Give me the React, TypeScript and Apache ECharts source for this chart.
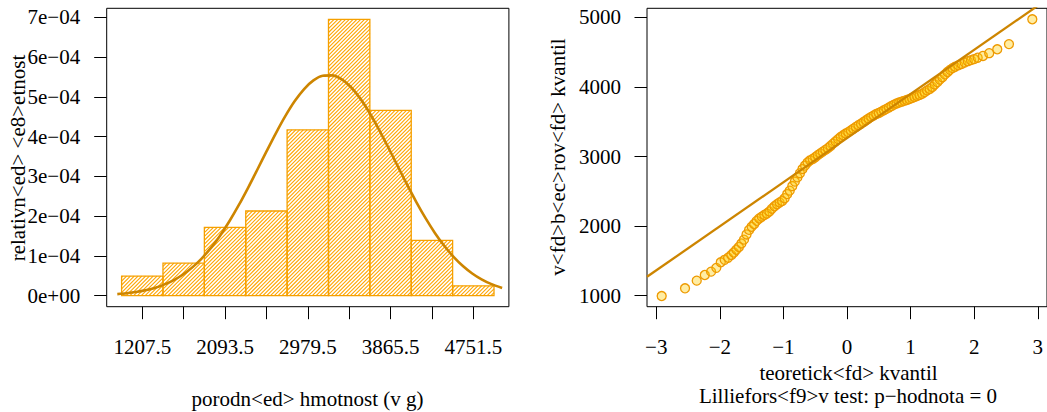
import React, { useEffect, useRef } from "react";
import * as echarts from "echarts";

// ---- Histogram (left panel) ----
const histBreaks = [986, 1429, 1872, 2315, 2758, 3201, 3644, 4087, 4530, 4973];
const histDensity = [4.9e-5, 8.2e-5, 1.72e-4, 2.13e-4, 4.17e-4, 6.95e-4, 4.66e-4, 1.39e-4, 2.45e-5];
const histTickValues = [1207.5, 1650.5, 2093.5, 2536.5, 2979.5, 3422.5, 3865.5, 4308.5, 4751.5];
const histLabelValues = [1207.5, 2093.5, 2979.5, 3865.5, 4751.5];
const densityTicks = [0, 1e-4, 2e-4, 3e-4, 4e-4, 5e-4, 6e-4, 7e-4];

// fitted normal density curve (values in units of 1e-4)
const curveX = [
  940, 1040, 1140, 1240, 1340, 1440, 1540, 1640, 1740, 1840, 1940, 2040, 2140, 2240,
  2340, 2440, 2540, 2640, 2740, 2840, 2940, 3040, 3140, 3240, 3340, 3440, 3540, 3640,
  3740, 3840, 3940, 4040, 4140, 4240, 4340, 4440, 4540, 4640, 4740, 4840, 4940, 5060,
];
const curveY = [
  0.0397, 0.0609, 0.0915, 0.135, 0.1954, 0.2773, 0.3861, 0.5271, 0.7059, 0.9275, 1.1948, 1.5099, 1.8713, 2.2752,
  2.7131, 3.1733, 3.6407, 4.0965, 4.5212, 4.8943, 5.1969, 5.4123, 5.5287, 5.5394, 5.4438, 5.2474, 4.9611, 4.6006,
  4.1845, 3.7332, 3.2668, 2.8038, 2.3605, 1.9491, 1.5785, 1.254, 0.9772, 0.7466, 0.5596, 0.4115, 0.2967, 0.1954,
];

// ---- Q-Q plot (right panel) ----
const qqX = [
  -2.914, -2.547, -2.363, -2.236, -2.137, -2.055, -1.985, -1.924, -1.869, -1.819,
  -1.78, -1.74, -1.7, -1.66, -1.62, -1.58, -1.54, -1.5, -1.46, -1.42,
  -1.38, -1.34, -1.3, -1.26, -1.22, -1.18, -1.14, -1.1, -1.06, -1.02,
  -0.98, -0.94, -0.9, -0.86, -0.82, -0.78, -0.74, -0.7, -0.66, -0.62,
  -0.58, -0.54, -0.5, -0.46, -0.42, -0.38, -0.34, -0.3, -0.26, -0.22,
  -0.18, -0.14, -0.1, -0.06, -0.02, 0.02, 0.06, 0.1, 0.14, 0.18,
  0.22, 0.26, 0.3, 0.34, 0.38, 0.42, 0.46, 0.5, 0.54, 0.58,
  0.62, 0.66, 0.7, 0.74, 0.78, 0.82, 0.86, 0.9, 0.94, 0.98,
  1.02, 1.06, 1.1, 1.14, 1.18, 1.22, 1.26, 1.3, 1.34, 1.38,
  1.42, 1.46, 1.5, 1.54, 1.58, 1.62, 1.66, 1.7, 1.75, 1.8,
  1.85, 1.9, 1.95, 2.0, 2.055, 2.137, 2.236, 2.363, 2.547, 2.914,
];
const qqY = [
  995, 1106, 1216, 1297, 1345, 1400, 1480, 1515, 1545, 1585,
  1620, 1660, 1700, 1750, 1805, 1880, 1945, 1990, 2030, 2075,
  2110, 2135, 2160, 2180, 2210, 2250, 2285, 2315, 2340, 2360,
  2400, 2460, 2510, 2575, 2640, 2700, 2760, 2820, 2870, 2915,
  2945, 2965, 2990, 3020, 3045, 3070, 3095, 3120, 3150, 3185,
  3215, 3250, 3280, 3305, 3330, 3350, 3375, 3400, 3425, 3450,
  3470, 3495, 3520, 3545, 3570, 3590, 3610, 3625, 3645, 3665,
  3685, 3705, 3725, 3745, 3762, 3775, 3788, 3800, 3812, 3825,
  3840, 3855, 3870, 3885, 3900, 3925, 3950, 3970, 4000, 4035,
  4070, 4105, 4140, 4180, 4215, 4245, 4270, 4290, 4310, 4330,
  4350, 4370, 4385, 4400, 4420, 4445, 4485, 4541, 4615, 4972,
];
const qqLineX = [-3.145, 3.145];
const qqLineY = [1271, 5259];
const qqTicks = [-3, -2, -1, 0, 1, 2, 3];
const sampleTicks = [1000, 2000, 3000, 4000, 5000];

const FONT = "Liberation Serif";
const MINUS = "\u2212";

export default function App() {
  const ref = useRef<HTMLDivElement>(null);

  useEffect(() => {
    document.body.style.margin = "0";
    const chart = echarts.init(ref.current!, null, { renderer: "svg" });

    const labelStyle = { fontFamily: FONT, fontSize: 21, color: "#000" };
    const tickStyle = { show: true, inside: false, length: 12.5, lineStyle: { color: "#000", width: 1 } };
    const hiddenLine = { show: false, onZero: false };

    const barData = histDensity.map((d, i) => [histBreaks[i], histBreaks[i + 1], d]);
    const hatchColor = "#FFA500";
    const barBorder = "#F5A000";

    const option: any = {
      animation: false,
      backgroundColor: "#fff",
      grid: [
        { left: 106.7, top: 8.3, width: 402.2, height: 298.4, show: true, borderColor: "#000", borderWidth: 1, backgroundColor: "transparent" },
        { left: 647, top: 8.3, width: 402.7, height: 298.4, show: true, borderColor: "#000", borderWidth: 1, backgroundColor: "transparent" },
      ],
      xAxis: [
        {
          gridIndex: 0, type: "value", min: 826.5, max: 5132.5, position: "bottom",
          axisLine: hiddenLine, splitLine: { show: false },
          axisTick: { ...tickStyle, customValues: histTickValues },
          axisLabel: { ...labelStyle, margin: 30, customValues: histLabelValues, formatter: (v: number) => v.toFixed(1) },
        },
        {
          gridIndex: 1, type: "value", min: -3.145, max: 3.145, position: "bottom",
          axisLine: hiddenLine, splitLine: { show: false },
          axisTick: { ...tickStyle, customValues: qqTicks },
          axisLabel: { ...labelStyle, margin: 30, customValues: qqTicks, formatter: (v: number) => (v < 0 ? MINUS + Math.abs(v) : String(v)) },
        },
      ],
      yAxis: [
        {
          gridIndex: 0, type: "value", min: -0.2767e-4, max: 7.226e-4, position: "left",
          axisLine: hiddenLine, splitLine: { show: false },
          axisTick: { ...tickStyle, customValues: densityTicks },
          axisLabel: {
            ...labelStyle, margin: 26.5, customValues: densityTicks,
            formatter: (v: number) => (Math.abs(v) < 1e-9 ? "0e+00" : `${Math.round(v * 1e4)}e${MINUS}04`),
          },
        },
        {
          gridIndex: 1, type: "value", min: 841.5, max: 5129.8, position: "left",
          axisLine: hiddenLine, splitLine: { show: false },
          axisTick: { ...tickStyle, customValues: sampleTicks },
          axisLabel: { ...labelStyle, margin: 26, customValues: sampleTicks, formatter: (v: number) => String(v) },
        },
      ],
      series: [
        {
          type: "custom",
          xAxisIndex: 0, yAxisIndex: 0,
          data: barData,
          encode: { x: [0, 1], y: 2 },
          renderItem: (params: any, api: any) => {
            const x0 = api.value(0), x1 = api.value(1), h = api.value(2);
            const p0 = api.coord([x0, h]);
            const p1 = api.coord([x1, 0]);
            const L = p0[0], T = p0[1], R = p1[0], B = p1[1];
            const children: any[] = [];
            const s = 3.8;
            const cStart = Math.ceil((L + T) / s) * s;
            for (let c = cStart; c <= R + B; c += s) {
              const xa = Math.max(L, c - B);
              const xb = Math.min(R, c - T);
              if (xb > xa) {
                children.push({
                  type: "line",
                  shape: { x1: xa, y1: c - xa, x2: xb, y2: c - xb },
                  style: { stroke: hatchColor, lineWidth: 1.1 },
                });
              }
            }
            children.push({
              type: "rect",
              shape: { x: L, y: T, width: R - L, height: B - T },
              style: { fill: "none", stroke: barBorder, lineWidth: 1.3 },
            });
            return { type: "group", children };
          },
        },
        {
          type: "line",
          xAxisIndex: 0, yAxisIndex: 0,
          data: curveX.map((x, i) => [x, curveY[i] * 1e-4]),
          smooth: 0.3, showSymbol: false, symbol: "none",
          lineStyle: { color: "#CD8500", width: 2.6 },
        },
        {
          type: "scatter",
          xAxisIndex: 1, yAxisIndex: 1,
          data: qqX.map((x, i) => [x, qqY[i]]),
          symbol: "circle", symbolSize: 9,
          itemStyle: { color: "rgba(255,205,0,0.36)", borderColor: "#EE9A00", borderWidth: 1.3, opacity: 1 },
        },
        {
          type: "line",
          xAxisIndex: 1, yAxisIndex: 1,
          data: qqLineX.map((x, i) => [x, qqLineY[i]]),
          showSymbol: false, symbol: "none", clip: true,
          lineStyle: { color: "#CD8500", width: 2.3 },
        },
      ],
      graphic: [
        {
          type: "text", x: 18, y: 158, rotation: Math.PI / 2,
          style: { text: "relativn<ed> <e8>etnost", font: `21px "${FONT}"`, fill: "#000", align: "center", verticalAlign: "middle" },
        },
        {
          type: "text", x: 307.5, y: 399,
          style: { text: "porodn<ed> hmotnost (v g)", font: `21px "${FONT}"`, fill: "#000", align: "center", verticalAlign: "middle" },
        },
        {
          type: "text", x: 558, y: 157, rotation: Math.PI / 2,
          style: { text: "v<fd>b<ec>rov<fd> kvantil", font: `21px "${FONT}"`, fill: "#000", align: "center", verticalAlign: "middle" },
        },
        {
          type: "text", x: 848.5, y: 372.7,
          style: { text: "teoretick<fd> kvantil", font: `21px "${FONT}"`, fill: "#000", align: "center", verticalAlign: "middle" },
        },
        {
          type: "text", x: 848, y: 396,
          style: { text: `Lilliefors<f9>v test: p${MINUS}hodnota = 0`, font: `21px "${FONT}"`, fill: "#000", align: "center", verticalAlign: "middle" },
        },
      ],
    };

    chart.setOption(option);
    return () => chart.dispose();
  }, []);

  return <div ref={ref} style={{ width: 1047, height: 412, position: "absolute", left: 0, top: 0 }} />;
}
